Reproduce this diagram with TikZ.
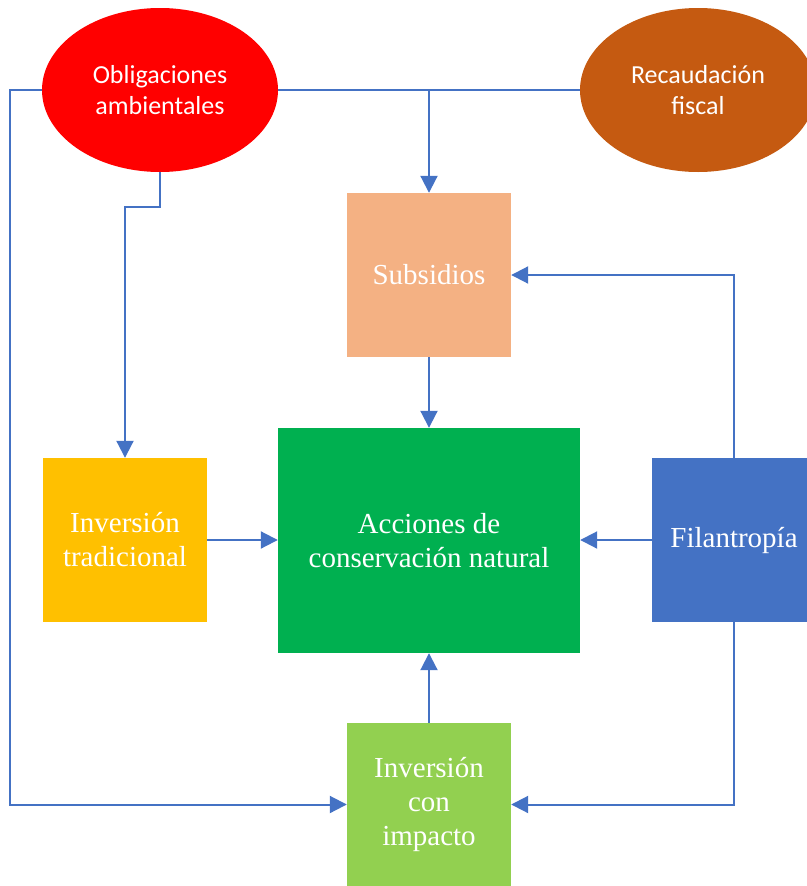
\documentclass[tikz,border=0pt]{standalone}
\usepackage{fontspec}
\setmainfont{Liberation Serif}
\newfontfamily\calibri{Carlito}
\usetikzlibrary{shapes.geometric,arrows.meta}
\definecolor{obliga}{HTML}{FF0000}
\definecolor{recauda}{HTML}{C55A11}
\definecolor{subsid}{HTML}{F4B183}
\definecolor{accion}{HTML}{00B050}
\definecolor{tradic}{HTML}{FFC000}
\definecolor{filan}{HTML}{4472C4}
\definecolor{impac}{HTML}{92D050}
\tikzset{
    fuente/.style={ellipse, minimum width=236pt, minimum height=164pt, inner sep=0pt,
        text=white, align=center, font=\calibri\fontsize{26}{31}\selectfont},
    caja/.style={rectangle, minimum width=164pt, minimum height=164pt, inner sep=0pt,
        text=white, align=center, font=\fontsize{29}{34}\selectfont},
    linea/.style={draw=filan, line width=2pt},
    flujo/.style={linea, -{Triangle[length=17pt,width=17pt]}}
}
\begin{document}
\begin{tikzpicture}[x=1pt, y=-1pt]
            %\draw[lightgray] (0, 0) grid[step=50] (806, 886);
            \useasboundingbox (0, 0) rectangle (806, 886);
            \node[fuente, fill=obliga] (obl) at (160, 90) {Obligaciones\\ambientales};
            \node[fuente, fill=recauda] (rec) at (698, 90) {Recaudación\\fiscal};
            \node[caja, fill=subsid] (sub) at (429, 275) {Subsidios};
            \node[caja, fill=accion, minimum width=302pt, minimum height=225pt] (acc) at (429, 540.5) {Acciones de\\conservación natural};
            \node[caja, fill=tradic] (trad) at (125, 540) {Inversión\\tradicional};
            \node[caja, fill=filan] (fil) at (734, 540) {Filantropía};
            \node[caja, fill=impac, minimum height=163pt] (imp) at (429, 804.5) {Inversión\\con\\impacto};
            \draw[linea] (obl.east) -- (rec.west);
            \draw[flujo] (obl.east -| sub.north) -- (sub.north);
            \draw[flujo] (obl.west) -- ++(-32, 0) |- (imp.west);
            \draw[flujo] (obl.south) -- ++(0, 35) -| (trad.north);
            \draw[flujo] (sub) -- (acc);
            \draw[flujo] (trad.east) -- (trad.east -| acc.west);
            \draw[flujo] (fil.west) -- (fil.west -| acc.east);
            \draw[flujo] (fil.north) |- (sub.east);
            \draw[flujo] (fil.south) |- (imp.east);
            \draw[flujo] (imp) -- (acc);
        \end{tikzpicture}
\end{document}
